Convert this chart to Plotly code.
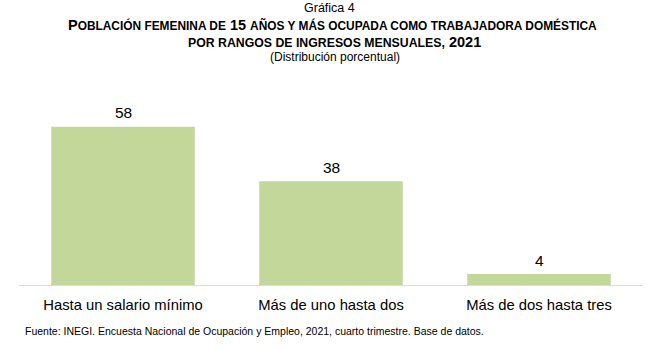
import plotly.graph_objects as go

categories = ["Hasta un salario mínimo", "Más de uno hasta dos", "Más de dos hasta tres"]
values = [58, 38, 4]
labels = ["58", "38", "4"]

W, H = 658, 350
fig = go.Figure()
fig.add_trace(go.Bar(
    x=categories, y=values,
    marker=dict(color="#c4d79b", line=dict(width=0)),
))

plot_top = 90
baseline = 285
ymax = (baseline - plot_top) / 2.73

fig.update_layout(
    width=W, height=H,
    margin=dict(l=19, r=W - 643, t=plot_top, b=H - baseline),
    paper_bgcolor="white", plot_bgcolor="white",
    bargap=0.31,
    showlegend=False,
    font=dict(family="Liberation Sans, Arial", color="#000000"),
    xaxis=dict(showline=True, linecolor="#d9d9d9", linewidth=1, ticks="outside", ticklen=6,
               tickcolor="rgba(0,0,0,0)",
               tickfont=dict(size=14.8, color="#000000"), showgrid=False, zeroline=False,
               fixedrange=True),
    yaxis=dict(range=[0, ymax], visible=False, showgrid=False, zeroline=False, fixedrange=True),
)

# value labels above bars, placed through the data scales
for c, v, t in zip(categories, values, labels):
    fig.add_annotation(x=c, y=v, xref="x", yref="y", text=t, showarrow=False,
                       yanchor="middle", yshift=14,
                       font=dict(family="Liberation Sans, Arial", size=15.5, color="#000000"))

def ann(text, y, size, x=0.5, xanchor="center"):
    fig.add_annotation(text=text, x=x, y=y, xref="paper", yref="paper", yanchor="middle",
                       xanchor=xanchor, showarrow=False,
                       font=dict(family="Liberation Sans, Arial", size=size, color="#000000"))

def py(pix):
    return (baseline - pix) / (baseline - plot_top)

def px(pix):
    return (pix - 19) / (643 - 19)

S1 = 'style="font-size:11.9px"'
S2 = 'style="font-size:12.3px"'
ann("Gráfica 4", py(8), 12.5, x=px(329))
ann('<b>P<span %s>OBLACIÓN FEMENINA DE</span> 15 <span %s>AÑOS Y MÁS OCUPADA COMO TRABAJADORA DOMÉSTICA</span></b>' % (S1, S1),
    py(25), 14.5, x=px(332))
ann('<b><span %s>POR RANGOS DE INGRESOS MENSUALES,</span> 2021</b>' % S2, py(42), 14.5, x=px(334))
ann("(Distribución porcentual)", py(57), 12, x=px(335))
ann("Fuente: INEGI. Encuesta Nacional de Ocupación y Empleo, 2021, cuarto trimestre. Base de datos.",
    py(331), 10.5, x=px(23), xanchor="left")

fig.write_html("out.html")
